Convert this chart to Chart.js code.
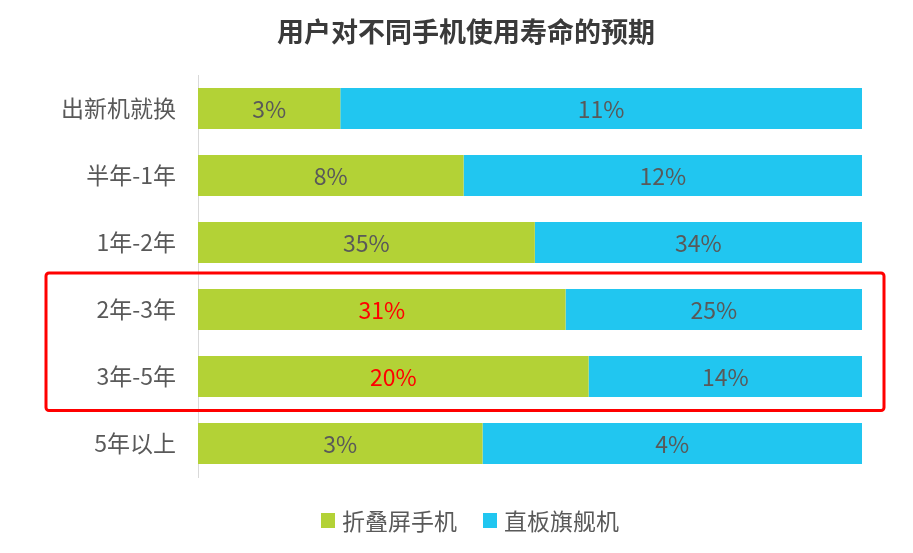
<!DOCTYPE html>
<html>
<head>
<meta charset="utf-8">
<script src="https://cdn.jsdelivr.net/npm/chart.js@4/dist/chart.umd.min.js"></script>
<style>
html,body{margin:0;padding:0;background:#fff;}
#wrap{width:913px;height:553px;position:relative;}
</style>
</head>
<body>
<div id="wrap"><canvas id="c" width="913" height="553"></canvas></div>
<script>
const categories = ['出新机就换', '半年-1年', '1年-2年', '2年-3年', '3年-5年', '5年以上'];
const foldableValues = [3, 8, 35, 31, 20, 3];
const barPhoneValues = [11, 12, 34, 25, 14, 4];
const seriesNames = ['折叠屏手机', '直板旗舰机'];
const highlightedCategories = ['2年-3年', '3年-5年'];
const chartTitle = '用户对不同手机使用寿命的预期';

const rawSeries = [foldableValues, barPhoneValues];
const shares = rawSeries.map(arr => arr.map((v, i) => v / (foldableValues[i] + barPhoneValues[i]) * 100));

const FONT = '"Noto Sans CJK SC", "Microsoft YaHei", sans-serif';
const GRAY = '#595959';
const COLORS = ['#B3D236', '#21C6F0'];

const labelPlugin = {
  id: 'segLabels',
  afterDatasetsDraw(chart) {
    const ctx = chart.ctx;
    ctx.save();
    ctx.font = '23px ' + FONT;
    ctx.textAlign = 'center';
    ctx.textBaseline = 'middle';
    chart.data.datasets.forEach((ds, di) => {
      const meta = chart.getDatasetMeta(di);
      meta.data.forEach((bar, i) => {
        const x = (bar.x + bar.base) / 2;
        const hl = highlightedCategories.includes(categories[i]) && di === 0;
        ctx.fillStyle = hl ? '#FF0000' : GRAY;
        ctx.fillText(rawSeries[di][i] + '%', x, bar.y + 1);
      });
    });
    ctx.restore();
  }
};

const decorPlugin = {
  id: 'decor',
  afterDraw(chart) {
    const ctx = chart.ctx;
    const y = chart.scales.y;
    const idx = highlightedCategories.map(c => categories.indexOf(c));
    const first = Math.min(...idx), last = Math.max(...idx);
    const top = y.getPixelForValue(first) - 36.5;
    const bottom = y.getPixelForValue(last) + 34;
    const left = 46, right = 884;
    ctx.save();
    ctx.strokeStyle = '#FF0000';
    ctx.lineWidth = 3;
    ctx.beginPath();
    if (ctx.roundRect) ctx.roundRect(left, top, right - left, bottom - top, 3);
    else ctx.rect(left, top, right - left, bottom - top);
    ctx.stroke();

    ctx.fillStyle = '#3A3A3A';
    ctx.font = 'bold 27px ' + FONT;
    ctx.textAlign = 'center';
    ctx.textBaseline = 'middle';
    ctx.fillText(chartTitle, 466, 32);

    ctx.font = '23px ' + FONT;
    const box = 14, gapBoxText = 7, gapItems = 26;
    const widths = seriesNames.map(n => box + gapBoxText + ctx.measureText(n).width);
    const total = widths.reduce((a, b) => a + b, 0) + gapItems * (seriesNames.length - 1);
    let x = 470 - total / 2;
    const ly = 520;
    ctx.textAlign = 'left';
    seriesNames.forEach((n, i) => {
      ctx.fillStyle = COLORS[i];
      ctx.fillRect(x, ly - 7, box, 15);
      ctx.fillStyle = GRAY;
      ctx.fillText(n, x + box + gapBoxText, ly + 1);
      x += widths[i] + gapItems;
    });
    ctx.restore();
  }
};

new Chart(document.getElementById('c'), {
  type: 'bar',
  data: {
    labels: categories,
    datasets: [
      { label: seriesNames[0], data: shares[0], backgroundColor: COLORS[0], barPercentage: 0.61, categoryPercentage: 1 },
      { label: seriesNames[1], data: shares[1], backgroundColor: COLORS[1], barPercentage: 0.61, categoryPercentage: 1 }
    ]
  },
  options: {
    indexAxis: 'y',
    responsive: false,
    animation: false,
    layout: { padding: { left: 0, right: 51, top: 75, bottom: 76 } },
    scales: {
      x: { stacked: true, min: 0, max: 100, display: false },
      y: {
        stacked: true,
        grid: { display: false, drawTicks: false },
        border: { display: true, color: '#D9D9D9', width: 1 },
        ticks: { color: GRAY, font: { family: FONT, size: 23 }, padding: 22 },
        afterFit(scale) { scale.width = 198; }
      }
    },
    plugins: {
      tooltip: { enabled: false },
      title: { display: false },
      legend: { display: false }
    }
  },
  plugins: [labelPlugin, decorPlugin]
});
</script>
</body>
</html>
